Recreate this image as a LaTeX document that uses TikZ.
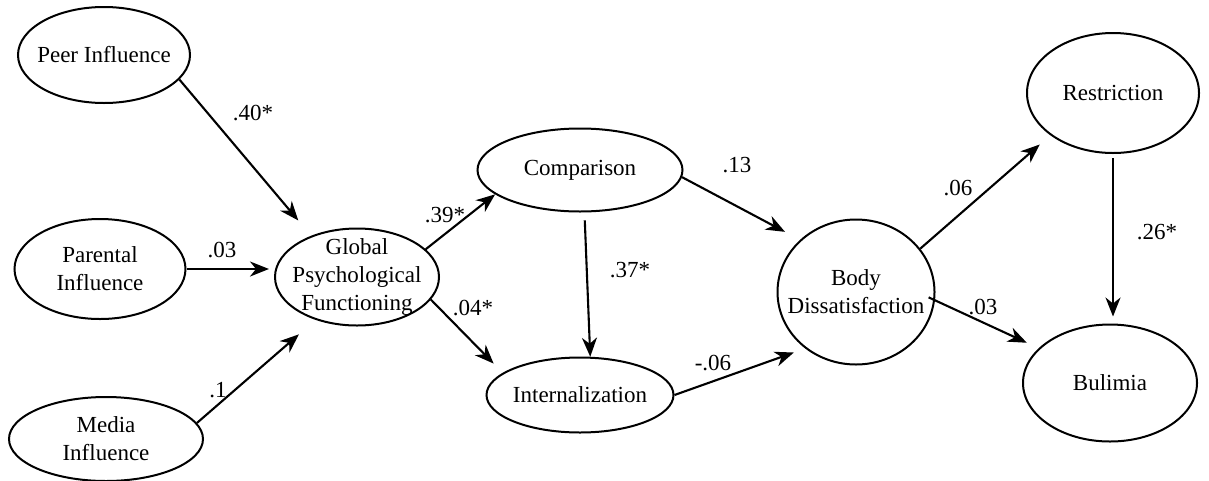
\documentclass[tikz,border=0pt]{standalone}
\usepackage{fontspec}
\setmainfont{Liberation Serif}
\usetikzlibrary{shapes.geometric,arrows.meta}
\begin{document}
\begin{tikzpicture}[x=1pt,y=-1pt,
  var/.style={ellipse,draw,line width=2pt,inner sep=0pt},
  vartext/.style={align=center,font=\fontsize{23}{28}\selectfont,inner sep=0pt},
  effect/.style={line width=2.1pt,-{Stealth[length=19pt,width=15pt,inset=6pt]}},
  coef/.style={font=\fontsize{23}{28}\selectfont,inner sep=0pt}]
\useasboundingbox (0,0) rectangle (1209,480);

% latent variables
\node[var,minimum width=172pt,minimum height=96pt,
  label={[vartext]center:Peer Influence}] (peer) at (104,55) {};
\node[var,minimum width=171pt,minimum height=100pt,
  label={[vartext]center:Parental\\Influence}] (parent) at (100,269) {};
\node[var,minimum width=194pt,minimum height=84pt,
  label={[vartext]center:Media\\Influence}] (media) at (106,439) {};
\node[var,minimum width=164pt,minimum height=97pt,
  label={[vartext]center:Global\\Psychological\\Functioning}] (global) at (357,277) {};
\node[var,minimum width=205pt,minimum height=83pt,
  label={[vartext]center:Comparison}] (comp) at (580,170) {};
\node[var,minimum width=187pt,minimum height=75pt,
  label={[vartext]center:Internalization}] (intern) at (580,395) {};
\node[var,minimum width=157pt,minimum height=145pt,
  label={[vartext]center:Body\\Dissatisfaction}] (body) at (856,292) {};
\node[var,minimum width=172pt,minimum height=120pt,
  label={[vartext]center:Restriction}] (restr) at (1113,93) {};
\node[var,minimum width=174pt,minimum height=117pt,
  label={[vartext]center:Bulimia}] (bul) at (1110,383) {};

% structural paths
\draw[effect,shorten >=20pt] (peer.-18) -- (global.138);
\draw[effect,shorten >=5pt] (parent.east) -- (parent.east -| global.west);
\draw[effect,shorten >=22pt] (media.10) -- (global.226);
\draw[effect] (global.22) -- (comp.196);
\draw[effect,shorten >=13pt] (global.-17) -- (intern.164);
\draw[effect,shorten <=8pt] (comp.-84) -- (intern.75);
\draw[effect,shorten >=17pt] (comp.-4) -- (body.137);
\draw[effect,shorten >=12pt] (intern.east) -- (body.228);
\draw[effect,shorten >=14pt] (body.34) -- (restr.214);
\draw[effect,shorten <=4pt,shorten >=7pt] (restr.south) -- (restr.south |- bul.north);
\draw[effect,shorten <=-7pt,shorten >=13pt] (body.-6) -- (bul.154);

% path coefficients
\node[coef] (c1) at (253,113) {.40*};
\node[coef] (c2) at (222,250) {.03};
\node[coef] (c3) at (218,390) {.1};
\node[coef] (c4) at (445,215) {.39*};
\node[coef] (c5) at (473,308) {.04*};
\node[coef] (c6) at (630,270) {.37*};
\node[coef] (c7) at (737,165) {.13};
\node[coef] (c8) at (713,363) {-.06};
\node[coef] (c9) at (958,188) {.06};
\node[coef] (c10) at (1157,232) {.26*};
\node[coef] (c11) at (983,307) {.03};
\end{tikzpicture}
\end{document}
